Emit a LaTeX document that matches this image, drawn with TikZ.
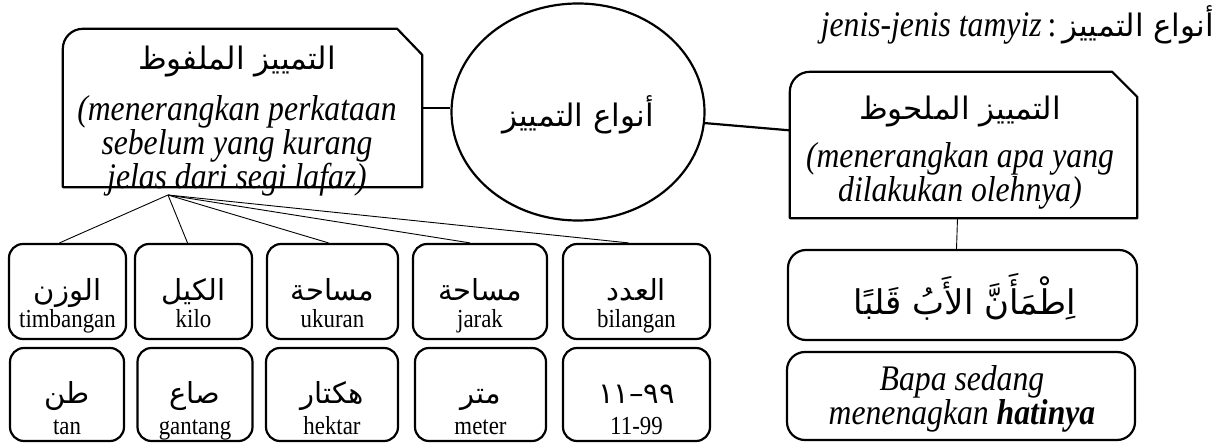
\documentclass[tikz,border=0pt]{standalone}
\usepackage{fontspec}
\setmainfont{Liberation Serif}[FakeStretch=0.88]
\newfontfamily\arfont[Script=Arabic]{DejaVu Sans}
\TeXXeTstate=1
\usetikzlibrary{shapes.geometric,calc}
\tikzset{
  thickline/.style={line width=2.2pt, line join=round},
  thinline/.style={line width=0.9pt},
  sbox/.style={draw, line width=2.2pt, rounded corners=14pt, inner sep=0pt},
  bigbox/.style={draw, line width=2.2pt, rounded corners=18pt, inner sep=0pt},
  plain/.style={draw=none, inner sep=0pt},
  artxt/.style={inner sep=0pt, font=\arfont\fontsize{29}{32}\selectfont},
  artitle/.style={inner sep=0pt, font=\arfont\fontsize{31}{34}\selectfont},
  lattxt/.style={inner sep=0pt, font=\fontsize{26}{30}\selectfont},
  ittxt/.style={inner sep=0pt, align=center, font=\itshape\fontsize{36}{32}\selectfont},
}
\newcommand\mycell[8]{%
  \node[sbox, minimum width=#4pt, minimum height=#5pt] (#1) at (#2,#3) {};
  \node[artxt, anchor=base] (#1a) at ($(#1.center)+(0,9)$) {#6};
  \node[lattxt, anchor=base] (#1l) at ($(#1.center)+(0,#8)$) {#7};
}
\begin{document}
\begin{tikzpicture}[x=1pt,y=-1pt]
\useasboundingbox (0,0) rectangle (1218,443);

% title
\node[inner sep=0pt, anchor=base east, font=\fontsize{36}{40}\selectfont] (title) at (1214,37)
  {\textit{jenis-jenis tamyiz}\,:\,{\arfont\fontsize{31}{34}\selectfont\beginR أنواع التمييز\endR}};

% left box (malfuzh)
\node[plain, minimum width=359pt, minimum height=158pt] (L) at (242.5,108) {};
\draw[thickline] (L.south west) -- ($(L.north west)+(0,20)$) arc[start angle=180,end angle=270,radius=20]
  -- ($(L.north east)+(-25,0)$) -- ($(L.north east)+(0,26)$) -- (L.south east) -- cycle;
\node[artitle] (Lar) at (237,62) {\beginR التمييز الملفوظ\endR};
\node[ittxt] (Lit) at (237,146) {(menerangkan perkataan\\sebelum yang kurang\\jelas dari segi lafaz)};

% centre ellipse
\node[draw, ellipse, line width=2.2pt, minimum width=253pt, minimum height=217pt, inner sep=0pt] (C) at (578,112) {};
\node[artitle] (Car) at (578,115) {\beginR أنواع التمييز\endR};

% right box (malhuzh)
\node[plain, minimum width=347pt, minimum height=146pt] (R) at (963.5,145) {};
\draw[thickline] (R.south west) -- ($(R.north west)+(0,20)$) arc[start angle=180,end angle=270,radius=20]
  -- ($(R.north east)+(-25,0)$) -- ($(R.north east)+(0,25)$) -- (R.south east) -- cycle;
\node[artitle] (Rar) at (960,112) {\beginR التمييز الملحوظ\endR};
\node[ittxt] (Rit) at (960,176) {(menerangkan apa yang\\dilakukan olehnya)};

% right lower boxes
\node[bigbox, minimum width=349pt, minimum height=90pt] (RB1) at (962.5,295) {};
\node[inner sep=0pt, font=\arfont\fontsize{34}{38}\selectfont] (RB1t) at (965,297) {\beginR اِطْمَأَنَّ الأَبُ قَلبًا\endR};
\node[bigbox, minimum width=348pt, minimum height=88pt] (RB2) at (961,396) {};
\node[ittxt] (RB2t) at (962,399) {Bapa sedang\\menenagkan \textbf{hatinya}};

% connectors between main nodes
\draw[thickline] (L.east) -- (L.east -| C.west);
\draw[thickline] (C.-5) -- ($(R.north west)!0.4!(R.south west)$);
\draw[thinline] ($(R.south)+(-6,0)$) -- ($(RB1.north)+(-6,0)$);

% small boxes row 1
\mycell{b1}{67.5}{291.5}{117}{95}{\beginR الوزن\endR}{timbangan}{36}
\mycell{b2}{193.5}{291.5}{117}{95}{\beginR الكيل\endR}{kilo}{36}
\mycell{b3}{332.5}{291.5}{131}{95}{\beginR مساحة\endR}{ukuran}{36}
\mycell{b4}{480}{291.5}{134}{95}{\beginR مساحة\endR}{jarak}{36}
\mycell{b5}{636.5}{291.5}{147}{95}{\beginR العدد\endR}{bilangan}{36}
% small boxes row 2
\mycell{c1}{67}{394.5}{114}{93}{\beginR طن\endR}{tan}{40}
\mycell{c2}{195}{394.5}{115}{93}{\beginR صاع\endR}{gantang}{40}
\mycell{c3}{332}{394.5}{132}{93}{\beginR هكتار\endR}{hektar}{40}
\mycell{c4}{480.5}{394.5}{131}{93}{\beginR متر\endR}{meter}{40}
\mycell{c5}{636.5}{394.5}{147}{93}{٩٩–١١}{11-99}{40}

% fan from left box
\coordinate (apex) at (168,195);
\draw[thinline] (apex) -- ($(b1.north)+(-8,0)$);
\draw[thinline] (apex) -- ($(b2.north)+(-6,0)$);
\draw[thinline] (apex) -- ($(b3.north)+(-4,0)$);
\draw[thinline] (apex) -- ($(b4.north)+(-10,0)$);
\draw[thinline] (apex) -- ($(b5.north)+(-8,0)$);
\end{tikzpicture}
\end{document}
